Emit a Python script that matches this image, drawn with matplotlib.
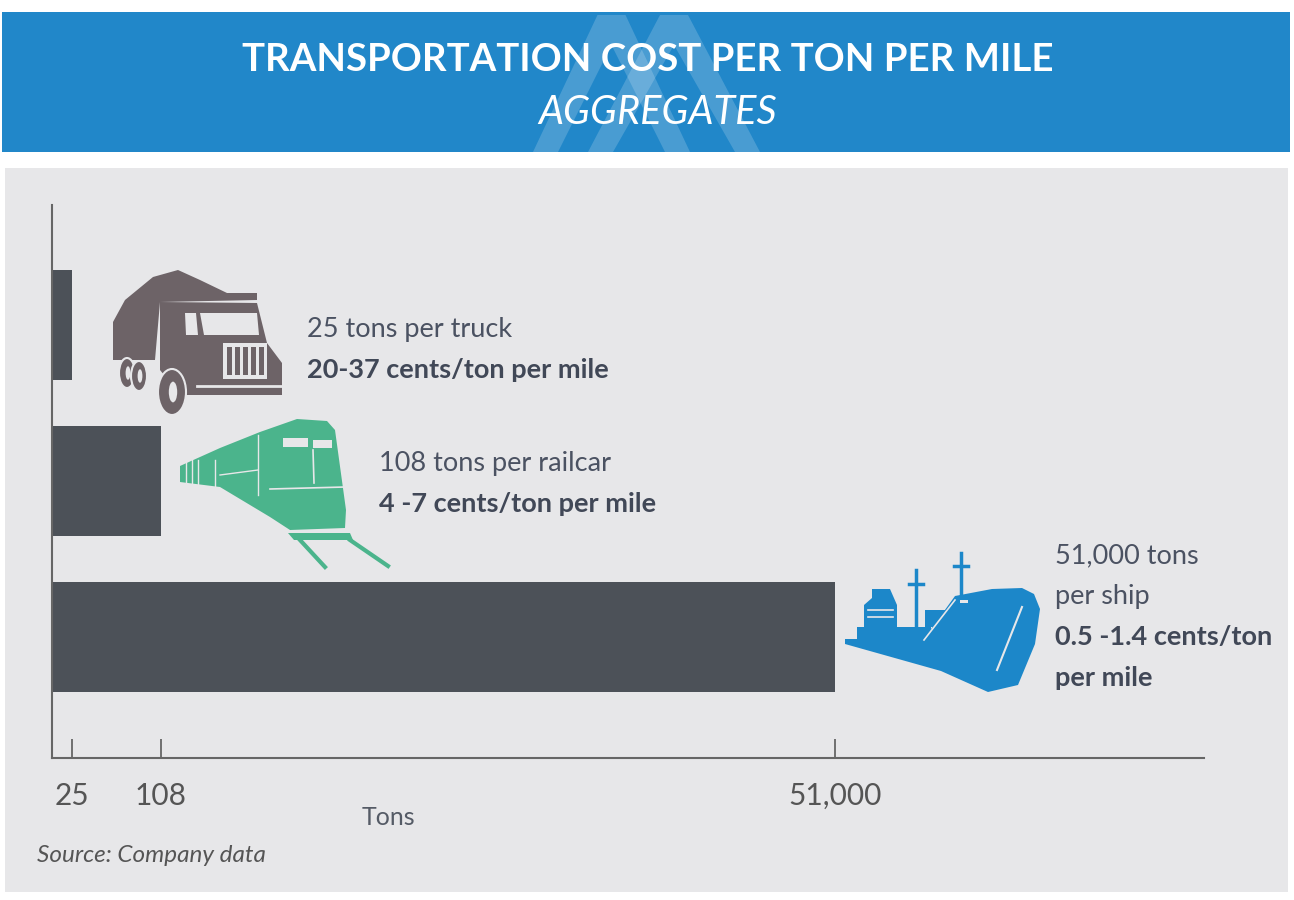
import numpy as np
import matplotlib
matplotlib.use("Agg")
import matplotlib.pyplot as plt
from matplotlib.patches import Rectangle, Polygon, Ellipse

# data
modes = ["Truck", "Railcar", "Ship"]
tons = [25, 108, 51000]
tick_labels = ["25", "108", "51,000"]
cap_lines = [["25 tons per truck"], ["108 tons per railcar"], ["51,000 tons", "per ship"]]
cost_lines = [["20-37 cents/ton per mile"], ["4 -7 cents/ton per mile"],
              ["0.5 -1.4 cents/ton", "per mile"]]

# the original axis is not linear, so use a piecewise scale
scale_vals = [0, 25, 108, 51000, 79000]
scale_pos = [0, 20, 109, 783, 1152]

def fwd(x):
    return np.interp(x, scale_vals, scale_pos)

def inv(p):
    return np.interp(p, scale_pos, scale_vals)

plt.rcParams['font.family'] = ['Lato', 'DejaVu Sans']

W, H = 1294, 900
fig = plt.figure(figsize=(W / 100, H / 100), dpi=100)
fig.patch.set_facecolor("white")

bg = fig.add_axes([0, 0, 1, 1], zorder=0)
bg.set_xlim(0, W)
bg.set_ylim(H, 0)
bg.axis("off")

# header band + watermark
bg.add_patch(Rectangle((2, 12), 1288, 140, color="#2187c9", lw=0))
for a, c in [(533, 690), (588, 760)]:
    mid = (a + c) / 2
    w = 25
    bg.add_patch(Polygon([(a, 152), (mid - 14, 15), (mid + 14, 15), (c, 152),
                          (c - w, 152), (mid, 45), (a + w, 152)],
                         closed=True, color="white", alpha=0.18, lw=0))
bg.text(648, 71, "TRANSPORTATION COST PER TON PER MILE", color="white",
        fontsize=27.6, fontweight="bold", ha="center", va="baseline")
bg.text(658, 124, "AGGREGATES", color="white", fontsize=28.5, fontstyle="italic",
        ha="center", va="baseline")

# gray panel
panel_c = "#e7e7e9"
bg.add_patch(Rectangle((5, 168), 1283, 724, color=panel_c, lw=0))

# truck icon
tc = "#6d6367"
bg.add_patch(Polygon([(113, 360), (113, 322), (125, 300), (153, 277), (178, 270),
                      (200, 280), (227, 293), (257, 293), (257, 300), (160, 302),
                      (155, 360)], closed=True, color=tc, lw=0))
bg.add_patch(Polygon([(160, 302), (257, 303), (267, 343), (282, 363), (282, 395),
                      (180, 395), (160, 370)], closed=True, color=tc, lw=0))
bg.add_patch(Polygon([(200, 313), (257, 313), (259, 335), (204, 335)], closed=True,
                     color=panel_c, lw=0))
bg.add_patch(Polygon([(185, 313), (196, 313), (198, 335), (186, 335)], closed=True,
                     color=panel_c, lw=0))
bg.add_patch(Rectangle((223, 343), 44, 36, color=panel_c, lw=0))
for gx in np.linspace(229, 261, 5):
    bg.add_patch(Rectangle((gx - 2.5, 347), 5, 28, color=tc, lw=0))
bg.plot([197, 282], [386, 386], color=panel_c, lw=2)
for cx, cy, ew, eh in [(127, 373, 16, 30), (139, 376, 16, 30), (172, 392, 28, 46)]:
    bg.add_patch(Ellipse((cx, cy), ew, eh, facecolor=tc, edgecolor=panel_c, lw=1.5))
    bg.add_patch(Ellipse((cx + 1, cy), ew * 0.3, eh * 0.45, color=panel_c, lw=0))

# train icon
gc = "#4bb48c"
bg.add_patch(Polygon([(180, 466), (180, 482), (220, 487), (270, 517), (290, 530),
                      (345, 528), (346, 510), (335, 430), (327, 421), (297, 419),
                      (260, 432), (220, 448)], closed=True, color=gc, lw=0))
for sx in [186, 192, 198, 215]:
    bg.plot([sx, sx], [460, 489], color=panel_c, lw=1)
bg.add_patch(Rectangle((283, 438), 25, 9, color=panel_c, lw=0))
bg.add_patch(Rectangle((313, 440), 19, 8, color=panel_c, lw=0))
bg.plot([313, 314], [450, 483], color=panel_c, lw=1.2)
bg.plot([270, 345], [489, 487], color=panel_c, lw=1.2)
bg.plot([258, 258], [435, 495], color=panel_c, lw=1)
bg.plot([220, 258], [475, 470], color=panel_c, lw=1)
bg.add_patch(Polygon([(288, 533), (350, 533), (353, 540), (294, 540)], closed=True,
                     color=gc, lw=0))
bg.plot([300, 325], [540, 567], color=gc, lw=3)
bg.plot([350, 388], [540, 566], color=gc, lw=3)

# ship icon
sc = "#1c87c9"
bg.add_patch(Polygon([(845, 639), (924, 639), (955, 596), (992, 589), (1022, 588),
                      (1034, 594), (1040, 609), (1035, 644), (1018, 685), (988, 692),
                      (941, 671), (845, 644)], closed=True, color=sc, lw=0))
bg.add_patch(Rectangle((857, 627), 74, 12, color=sc, lw=0))
bg.add_patch(Polygon([(864, 627), (864, 605), (872, 598), (872, 589), (890, 589),
                      (897, 605), (897, 627)], closed=True, color=sc, lw=0))
bg.add_patch(Rectangle((925, 610), 20, 17, color=sc, lw=0))
bg.plot([916, 916], [570, 625], color=sc, lw=2.5)
bg.plot([909, 923], [584, 584], color=sc, lw=2.5)
bg.plot([961, 961], [553, 595], color=sc, lw=2.5)
bg.plot([954, 968], [566, 566], color=sc, lw=2.5)
for ly in [610, 617]:
    bg.plot([868, 893], [ly, ly], color=panel_c, lw=1.2)
bg.plot([924, 955], [640, 600], color=panel_c, lw=1.2)
bg.plot([1022, 997], [607, 670], color=panel_c, lw=1.5)
bg.add_patch(Rectangle((960, 600), 8, 3, color=panel_c, lw=0))

# main bars
ax = fig.add_axes([52 / W, 1 - 758 / H, (1204 - 52) / W, (758 - 205) / H], zorder=1)
ax.patch.set_visible(False)
ax.set_xscale("function", functions=(fwd, inv))
ypos = np.arange(len(modes))
ax.barh(ypos, tons, height=0.705, color="#4c5158", zorder=2)
ax.set_xlim(0, 79000)
ax.set_ylim(2.776, -0.769)
ax.set_yticks([])
ax.set_xticks(tons)
ax.set_xticklabels(tick_labels)
ax.xaxis.set_minor_locator(matplotlib.ticker.NullLocator())
ax.tick_params(axis="x", direction="in", length=14, width=1.3, color="#666666",
               labelsize=21.5, labelcolor="#555555", pad=17)
for s in ["top", "right"]:
    ax.spines[s].set_visible(False)
for s in ["left", "bottom"]:
    ax.spines[s].set_color("#666666")
    ax.spines[s].set_linewidth(1.5)

# annotations, one line at a time
txt_c = "#4b5262"
bold_c = "#414857"
line_h = 41
lab_x = [307, 379, 1055]
lab_y = [337, 471, 563]
for i in range(len(modes)):
    y = lab_y[i]
    for line in cap_lines[i]:
        bg.text(lab_x[i], y, line, color=txt_c, fontsize=19.5,
                ha="left", va="baseline")
        y += line_h
    for line in cost_lines[i]:
        bg.text(lab_x[i], y, line, color=bold_c, fontsize=19.5,
                fontweight="bold", ha="left", va="baseline")
        y += line_h

bg.text(388, 825, "Tons", color="#555b66", fontsize=18, ha="center", va="baseline")
bg.text(37, 862, "Source: Company data", color="#555555", fontsize=17.5,
        fontstyle="italic", ha="left", va="baseline")

fig.savefig("out.png", dpi=100)
